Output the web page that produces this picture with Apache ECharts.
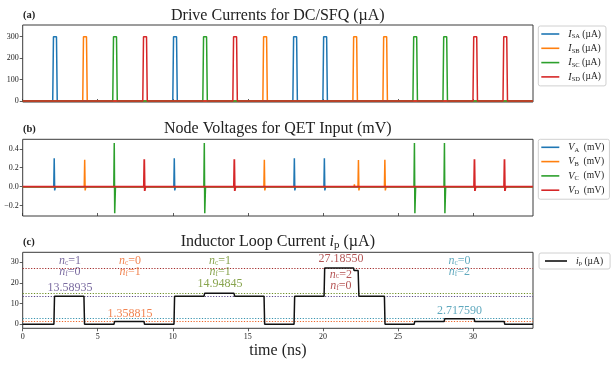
<!DOCTYPE html>
<html><head><meta charset="utf-8">
<script src="https://cdn.jsdelivr.net/npm/echarts@6/dist/echarts.min.js"></script>
<style>html,body{margin:0;padding:0;background:#fff}#c{width:611px;height:367px}</style>
</head><body><div id="c"></div>
<script>
// ---- tick labels ----
const timeTicks = [0, 5, 10, 15, 20, 25, 30];
const driveTicks = [0, 100, 200, 300];
const voltTicks = [-0.2, 0, 0.2, 0.4];
const loopTicks = [0, 10, 20, 30];

// ---- (a) drive currents (time ns, µA) ----
const ISA = [[0,0],[2,0],[2.05,300],[2.25,300],[2.3,0],[10,0],[10.05,300],[10.25,300],[10.3,0],[18,0],[18.05,300],[18.25,300],[18.3,0],[20,0],[20.05,300],[20.25,300],[20.3,0],[34,0]];
const ISB = [[0,0],[4,0],[4.05,300],[4.25,300],[4.3,0],[16,0],[16.05,300],[16.25,300],[16.3,0],[22,0],[22.05,300],[22.25,300],[22.3,0],[24,0],[24.05,300],[24.25,300],[24.3,0],[34,0]];
const ISC = [[0,0],[6,0],[6.05,300],[6.25,300],[6.3,0],[12,0],[12.05,300],[12.25,300],[12.3,0],[26,0],[26.05,300],[26.25,300],[26.3,0],[28,0],[28.05,300],[28.25,300],[28.3,0],[34,0]];
const ISD = [[0,0],[8,0],[8.05,300],[8.25,300],[8.3,0],[14,0],[14.05,300],[14.25,300],[14.3,0],[30,0],[30.05,300],[30.25,300],[30.3,0],[32,0],[32.05,300],[32.25,300],[32.3,0],[34,0]];

// ---- (b) node voltages (time ns, mV) ----
const VA = [[0,0],[2.07,0],[2.1,0.30],[2.13,-0.04],[2.18,0],[10.07,0],[10.1,0.30],[10.13,-0.04],[10.18,0],[18.07,0],[18.1,0.30],[18.13,-0.04],[18.18,0],[20.07,0],[20.1,0.30],[20.13,-0.04],[20.18,0],[34,0]];
const VB = [[0,0],[4.1,0],[4.13,0.285],[4.16,-0.04],[4.21,0],[16.07,0],[16.1,0.285],[16.13,-0.04],[16.18,0],[22.08,0],[22.1,0.025],[22.12,0],[22.34,0],[22.37,0.28],[22.4,-0.04],[22.45,0],[24.1,0],[24.13,0.285],[24.16,-0.04],[24.21,0],[34,0]];
const VC = [[0,0],[6.07,0],[6.1,0.46],[6.13,-0.28],[6.18,0],[12.07,0],[12.1,0.46],[12.13,-0.28],[12.18,0],[26.07,0],[26.1,0.46],[26.13,-0.28],[26.18,0],[28.07,0],[28.1,0.46],[28.13,-0.28],[28.18,0],[34,0]];
const VD = [[0,0],[8.07,0],[8.1,0.29],[8.13,-0.045],[8.18,0],[14.07,0],[14.1,0.29],[14.13,-0.045],[14.18,0],[30.07,0],[30.1,0.29],[30.13,-0.045],[30.18,0],[32.07,0],[32.1,0.29],[32.13,-0.045],[32.18,0],[34,0]];

// ---- (c) inductor loop current (time ns, µA) ----
const IP = [[0,0],[2.08,0],[2.12,13.58935],[4.08,13.58935],[4.12,0],[6.08,0],[6.12,1.358815],[8.08,1.358815],[8.12,0],[10.08,0],[10.12,13.58935],[12.08,13.58935],[12.12,14.94845],[14.08,14.94845],[14.12,13.58935],[16.08,13.58935],[16.12,0],[18.08,0],[18.12,13.58935],[20.08,13.58935],[20.12,27.1855],[22.04,27.1855],[22.08,26.0],[22.35,26.0],[22.4,13.58935],[24.1,13.58935],[24.14,0],[26.08,0],[26.12,1.358815],[28.08,1.358815],[28.12,2.71759],[30.08,2.71759],[30.12,1.358815],[32.08,1.358815],[32.12,0],[34,0]];

// flux-state levels
const levelValues = [13.58935, 1.358815, 14.94845, 27.18550, 2.717590];
const levelText   = ['13.58935', '1.358815', '14.94845', '27.18550', '2.717590'];
const nC = [1, 0, 1, 2, 0];
const nF = [0, 1, 1, 0, 2];

// ---- styling / layout (not data) ----
const FONT = 'Liberation Serif';
const tab = ['#1f77b4', '#ff7f0e', '#2ca02c', '#d62728'];
const levelColors = ['#5a4789', '#ee6526', '#6a8d22', '#a32a2a', '#3893ae'];
// annotation anchor positions (x ns, y for n-lines, y for value label)
const annPos = [
  {x: 3.15, yn: 27.9, yv: 17.7},
  {x: 7.15, yn: 27.9, yv: 5.1},
  {x: 13.15, yn: 27.9, yv: 19.4},
  {x: 21.2, yn: 21.2, yv: 31.4},
  {x: 29.1, yn: 27.9, yv: 6.6}
];

const gridL = 22.7, gridR = 78;
const grids = [
  {left: gridL, right: gridR, top: 25, height: 77},
  {left: gridL, right: gridR, top: 139.3, height: 76.7},
  {left: gridL, right: gridR, top: 252.3, height: 76}
].map(g => Object.assign(g, {show: true, borderColor: '#3a3a3a', borderWidth: 1, backgroundColor: 'transparent'}));

const tickLabel = {fontFamily: FONT, fontSize: 8, color: '#222'};
const xAxes = [0,1,2].map(i => ({
  type: 'value', gridIndex: i, min: 0, max: 34,
  axisLine: {show: false, onZero: false},
  splitLine: {show: false},
  axisTick: {show: true, inside: i < 2, length: 3, customValues: timeTicks, lineStyle: {color: '#333', width: 0.8}},
  axisLabel: Object.assign({show: i === 2, customValues: timeTicks, margin: 5}, tickLabel)
}));
const fmtV = v => (v < 0 ? '\u2212' + Math.abs(v).toFixed(1) : v.toFixed(1));
const yCfg = [
  {min: -4.7, max: 354.6, ticks: driveTicks, fmt: v => String(v)},
  {min: -0.31, max: 0.5, ticks: voltTicks, fmt: fmtV},
  {min: -1.94, max: 34.8, ticks: loopTicks, fmt: v => String(v)}
];
const yAxes = yCfg.map((c, i) => ({
  type: 'value', gridIndex: i, min: c.min, max: c.max,
  axisLine: {show: false, onZero: false},
  splitLine: {show: false},
  axisTick: {show: true, inside: false, length: 3, customValues: c.ticks, lineStyle: {color: '#333', width: 0.8}},
  axisLabel: Object.assign({customValues: c.ticks, margin: 4, formatter: c.fmt}, tickLabel)
}));

function lineSeries(name, data, color, gi, w) {
  return {name, type: 'line', data, xAxisIndex: gi, yAxisIndex: gi, showSymbol: false, symbol: 'none',
    lineStyle: {color, width: w || 1.5}, itemStyle: {color}, animation: false, silent: true};
}

const series = [
  lineSeries('ISA', ISA, tab[0], 0), lineSeries('ISB', ISB, tab[1], 0),
  lineSeries('ISC', ISC, tab[2], 0), lineSeries('ISD', ISD, tab[3], 0),
  lineSeries('VA', VA, tab[0], 1), lineSeries('VB', VB, tab[1], 1),
  lineSeries('VC', VC, tab[2], 1), lineSeries('VD', VD, tab[3], 1, 1.8)
];
const ip = lineSeries('ip', IP, '#111', 2, 1.5);
ip.z = 5;
ip.markLine = {
  silent: true, symbol: ['none', 'none'], label: {show: false}, animation: false,
  data: levelValues.map((v, i) => ({yAxis: v, lineStyle: {color: levelColors[i], type: [1.2, 1.6], width: 1}}))
};
series.push(ip);

// annotation text series
const annRich = {};
levelColors.forEach((c, i) => {
  annRich['it' + i] = {fontFamily: FONT, fontStyle: 'italic', fontSize: 12, color: c, lineHeight: 11.5};
  annRich['sb' + i] = {fontFamily: FONT, fontSize: 7.5, color: c, lineHeight: 6, verticalAlign: 'bottom'};
  annRich['t' + i] = {fontFamily: FONT, fontSize: 12, color: c, lineHeight: 11.5};
});
const annData = [];
levelValues.forEach((v, i) => {
  const p = annPos[i];
  annData.push({value: [p.x, p.yn], label: {formatter:
    '{it' + i + '|n}{sb' + i + '|c}{t' + i + '|=' + nC[i] + '}\n{it' + i + '|n}{sb' + i + '|f}{t' + i + '|=' + nF[i] + '}'}});
  annData.push({value: [p.x, p.yv], label: {formatter: '{t' + i + '|' + levelText[i] + '}'}});
});
series.push({
  type: 'scatter', xAxisIndex: 2, yAxisIndex: 2, data: annData, symbolSize: 1, silent: true, animation: false,
  itemStyle: {color: 'rgba(0,0,0,0)'}, z: 10,
  label: {show: true, position: 'inside', align: 'center', verticalAlign: 'middle', rich: annRich}
});

// legends
const legRich = {
  g: {width: 4},
  it: {fontFamily: FONT, fontStyle: 'italic', fontSize: 10, color: '#222', lineHeight: 12},
  sub: {fontFamily: FONT, fontSize: 6.5, color: '#222', lineHeight: 6, verticalAlign: 'bottom'},
  n: {fontFamily: FONT, fontSize: 9.5, color: '#222', lineHeight: 12}
};
const legLabels = {
  ISA: '{g|}{it|I}{sub|SA}{n| (\u00b5A)}', ISB: '{g|}{it|I}{sub|SB}{n| (\u00b5A)}',
  ISC: '{g|}{it|I}{sub|SC}{n| (\u00b5A)}', ISD: '{g|}{it|I}{sub|SD}{n| (\u00b5A)}',
  VA: '{g|}{it|V}{sub|A}{n|  (mV)}', VB: '{g|}{it|V}{sub|B}{n|  (mV)}',
  VC: '{g|}{it|V}{sub|C}{n|  (mV)}', VD: '{g|}{it|V}{sub|D}{n|  (mV)}',
  ip: '{g|}{it|i}{sub|p}{n| (\u00b5A)}'
};
function legend(names, left, top, pad, iw) {
  return {
    data: names.map(n => ({name: n, icon: 'rect'})), orient: 'vertical', left, top, padding: pad,
    itemWidth: iw || 18, itemHeight: 1.6, itemGap: 2.3, selectedMode: false,
    borderColor: '#d0d0d0', borderWidth: 1, borderRadius: 2, backgroundColor: '#fff',
    formatter: n => legLabels[n], textStyle: {rich: legRich, fontFamily: FONT}
  };
}

const titleRich = {
  t: {fontFamily: FONT, fontSize: 16, color: '#222'},
  it: {fontFamily: FONT, fontSize: 16, fontStyle: 'italic', color: '#222'},
  sub: {fontFamily: FONT, fontSize: 11, color: '#222', lineHeight: 10, verticalAlign: 'bottom'}
};
function txt(x, y, text, opts) {
  return {type: 'text', x, y, silent: true, style: Object.assign({text, textAlign: 'center', textVerticalAlign: 'middle',
    font: '16px "' + FONT + '"', fill: '#222'}, opts || {})};
}
const cx = gridL + (611 - gridL - gridR) / 2;

const option = {
  animation: false,
  backgroundColor: '#fff',
  grid: grids, xAxis: xAxes, yAxis: yAxes, series,
  legend: [
    legend(['ISA', 'ISB', 'ISC', 'ISD'], 538.3, 26, [2, 5, 3, 3]),
    legend(['VA', 'VB', 'VC', 'VD'], 538.3, 139.3, [2, 5, 3, 3]),
    legend(['ip'], 539, 253, [2, 7, 2, 6], 22)
  ],
  graphic: [
    txt(cx, 15.4, 'Drive Currents for DC/SFQ (\u00b5A)'),
    txt(cx, 129.2, 'Node Voltages for QET Input (mV)'),
    txt(cx, 242.2, '{t|Inductor Loop Current }{it|i}{sub|p}{t| (\u00b5A)}', {rich: titleRich}),
    txt(cx, 351, 'time (ns)'),
    txt(23, 15.5, '(a)', {textAlign: 'left', font: 'bold 10.5px "' + FONT + '"'}),
    txt(23, 129.2, '(b)', {textAlign: 'left', font: 'bold 10.5px "' + FONT + '"'}),
    txt(23, 242.5, '(c)', {textAlign: 'left', font: 'bold 10.5px "' + FONT + '"'})
  ]
};
const chart = echarts.init(document.getElementById('c'), null, {renderer: 'canvas'});
chart.setOption(option);
</script></body></html>
